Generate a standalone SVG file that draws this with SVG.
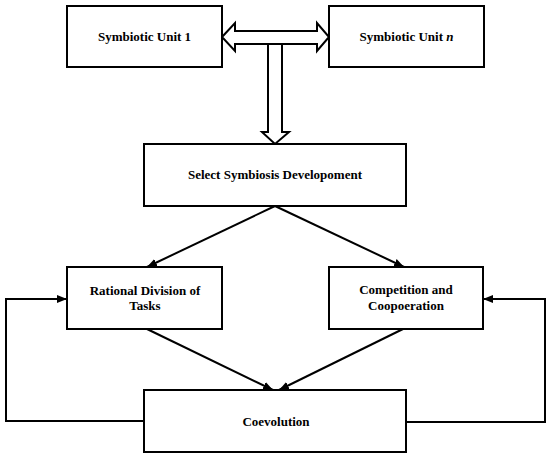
<svg xmlns="http://www.w3.org/2000/svg" width="550" height="459" viewBox="0 0 550 459">
  <defs>
    <style>
      .box { fill: #ffffff; stroke: #000000; stroke-width: 2; }
      .lbl { font-weight: bold; font-size: 13px; fill: #000000; text-anchor: middle; }
      .conn { fill: none; stroke: #000000; stroke-width: 2; }
      .hollow { fill: #ffffff; stroke: #000000; stroke-width: 2; stroke-linejoin: miter; }
    </style>
    <marker id="arrow" viewBox="0 0 10 10" refX="10" refY="5" markerWidth="10" markerHeight="10" markerUnits="userSpaceOnUse" orient="auto">
      <path d="M0,1 L10,5 L0,9 Z" fill="#000000"/>
    </marker>
  </defs>
  <rect width="550" height="459" fill="#ffffff"/>

  <g id="connectors">
    <polygon class="hollow" points="268,44 282,44 282,132 289,132 275,144 262,132 268,132"/>
    <polygon class="hollow" points="222,37 235,23 235,31 317,31 317,23 329,37 317,51 317,44 235,44 235,51"/>
    <line class="conn" x1="275" y1="206" x2="147" y2="267" marker-end="url(#arrow)"/>
    <line class="conn" x1="275" y1="206" x2="404" y2="267" marker-end="url(#arrow)"/>
    <line class="conn" x1="147" y1="329" x2="273" y2="390" marker-end="url(#arrow)"/>
    <line class="conn" x1="403" y1="329" x2="279" y2="390" marker-end="url(#arrow)"/>
    <polyline class="conn" points="144,421 6,421 6,299 67,299" marker-end="url(#arrow)"/>
    <polyline class="conn" points="406,422 545,422 545,299 483,299" marker-end="url(#arrow)"/>
  </g>

  <g font-family="'Liberation Serif', 'Times New Roman', serif">
  <g id="unit1">
    <rect class="box" x="67" y="6" width="155" height="61"/>
    <text class="lbl" x="144.5" y="41">Symbiotic Unit 1</text>
  </g>
  <g id="unitn">
    <rect class="box" x="329" y="6" width="155" height="61"/>
    <text class="lbl" x="406.5" y="41">Symbiotic Unit <tspan font-style="italic">n</tspan></text>
  </g>
  <g id="select">
    <rect class="box" x="144" y="144" width="262" height="62"/>
    <text class="lbl" x="275" y="179">Select Symbiosis Developoment</text>
  </g>
  <g id="rational">
    <rect class="box" x="67" y="267" width="155" height="62"/>
    <text class="lbl" x="145" y="295">Rational Division of</text>
    <text class="lbl" x="145" y="310">Tasks</text>
  </g>
  <g id="competition">
    <rect class="box" x="329" y="267" width="154" height="62"/>
    <text class="lbl" x="406" y="294">Competition and</text>
    <text class="lbl" x="406" y="310">Coopoeration</text>
  </g>
  <g id="coevolution">
    <rect class="box" x="144" y="390" width="262" height="62"/>
    <text class="lbl" x="276" y="426">Coevolution</text>
  </g>
  </g>
</svg>
